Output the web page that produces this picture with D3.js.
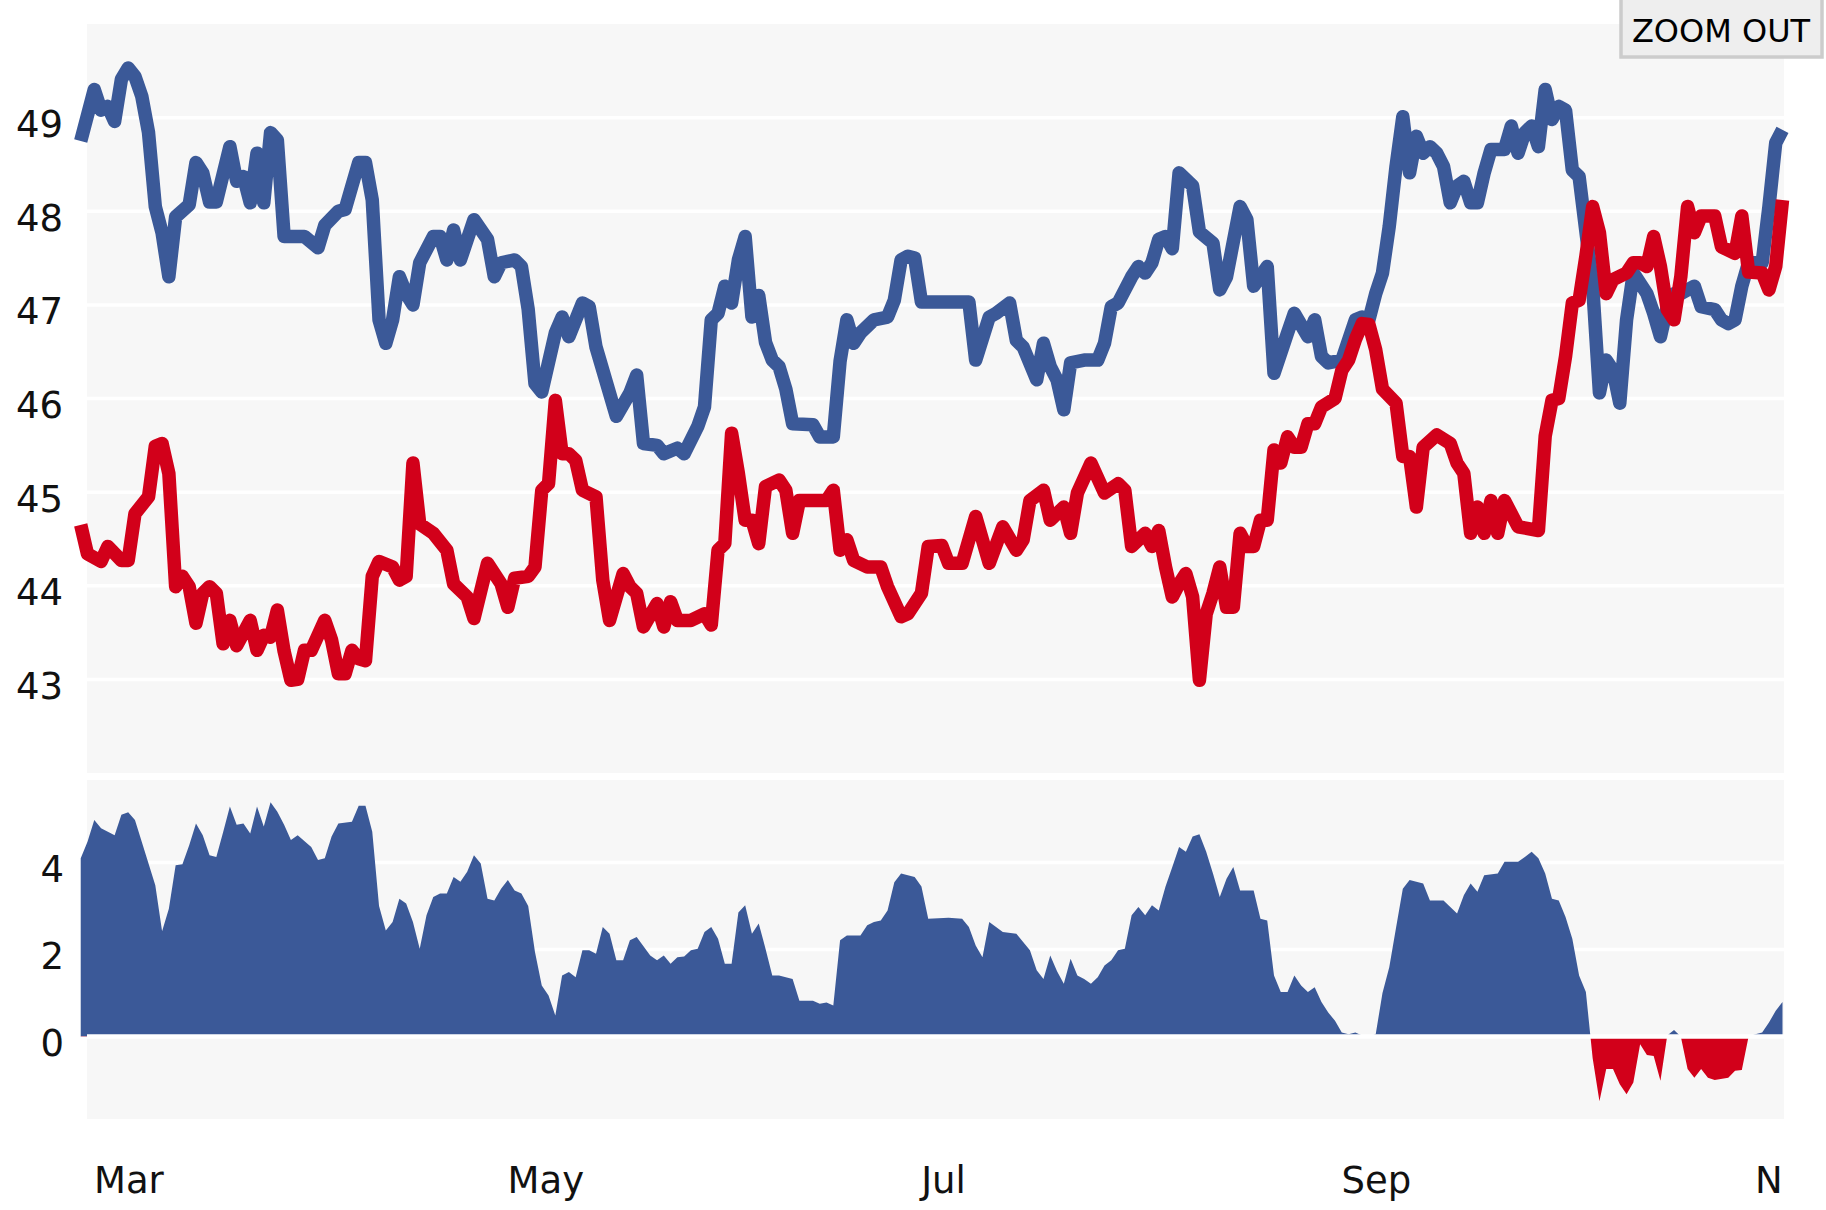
<!DOCTYPE html>
<html><head><meta charset="utf-8">
<script src="https://cdn.jsdelivr.net/npm/d3@7"></script>
<style>
html,body{margin:0;padding:0;background:#fff;}
svg{display:block;}
text{font-family:"DejaVu Sans",Verdana,sans-serif;}
</style>
</head><body>
<svg id="chart" width="1826" height="1210"></svg>
<script>
// x categories: days after 1 Mar 2012 (tracking-poll dates)
const blueDay = [-1,1,2,3,4,5,6,7,8,9,10,11,12,13,15,16,17,18,19,21,22,23,24,25,26,27,28,29,32,34,35,37,38,39,40,41,42,43,44,45,46,47,48,49,51,52,53,54,55,57,59,60,61,63,64,65,66,67,69,70,71,73,74,75,78,80,81,82,84,85,87,88,90,91,92,93,94,95,96,97,98,99,100,101,102,103,104,107,108,110,111,112,113,114,116,118,119,120,121,122,123,130,131,133,134,136,137,138,140,141,142,143,144,145,147,149,150,151,152,154,155,156,157,158,159,160,161,163,164,166,167,168,170,171,172,174,175,177,178,180,181,182,183,185,187,188,189,190,191,192,193,194,195,196,197,198,199,200,201,202,203,204,205,206,207,209,210,211,212,213,214,215,216,217,218,219,220,222,223,224,225,226,227,228,230,231,232,233,234,235,237,238,240,241,242,243,244,245,247,248,249,250];
const blueVal = [48.75,49.30,49.08,49.12,48.96,49.41,49.53,49.44,49.23,48.84,48.05,47.77,47.30,47.94,48.07,48.52,48.41,48.10,48.10,48.69,48.32,48.37,48.09,48.62,48.09,48.84,48.76,47.73,47.73,47.61,47.85,48.00,48.02,48.27,48.52,48.52,48.12,46.84,46.59,46.84,47.30,47.12,47.00,47.45,47.73,47.73,47.48,47.80,47.48,47.91,47.70,47.30,47.45,47.48,47.41,46.95,46.16,46.07,46.70,46.87,46.66,47.02,46.98,46.55,45.81,46.06,46.25,45.52,45.50,45.41,45.47,45.41,45.70,45.91,46.84,46.91,47.20,47.02,47.48,47.73,46.87,47.10,46.60,46.41,46.34,46.10,45.73,45.72,45.59,45.59,46.40,46.84,46.59,46.70,46.84,46.87,47.05,47.48,47.52,47.50,47.03,47.03,46.41,46.87,46.91,47.02,46.62,46.55,46.20,46.59,46.34,46.20,45.88,46.38,46.41,46.41,46.59,46.98,47.02,47.30,47.41,47.34,47.45,47.70,47.73,47.60,48.41,48.27,47.78,47.66,47.16,47.30,48.05,47.91,47.20,47.41,46.27,46.70,46.91,46.66,46.84,46.45,46.38,46.41,46.84,46.87,46.84,47.12,47.34,47.84,48.48,49.01,48.41,48.80,48.62,48.69,48.62,48.48,48.09,48.27,48.32,48.09,48.09,48.41,48.66,48.66,48.91,48.62,48.84,48.91,48.69,49.30,48.98,49.12,49.08,48.44,48.37,47.20,46.06,46.41,46.30,45.95,46.84,47.34,47.12,46.91,46.66,46.98,47.12,47.12,47.20,46.98,46.95,46.84,46.80,46.84,47.20,47.45,47.45,48.05,48.73,48.87];

const redDay = [-1,0,2,3,5,6,7,9,10,11,12,13,14,15,16,17,18,19,20,21,22,24,25,26,27,28,29,30,31,32,33,35,36,37,38,39,40,41,42,43,45,46,47,48,49,51,53,54,56,57,59,61,62,63,65,66,67,68,69,70,71,72,73,75,76,77,79,80,81,82,84,85,86,87,89,91,92,93,94,95,96,97,98,99,100,102,103,104,105,109,110,111,112,113,115,117,118,120,121,123,124,126,127,129,131,133,135,137,138,139,141,142,143,144,145,146,148,150,152,153,154,156,157,158,159,160,161,162,163,164,165,166,167,168,169,170,171,172,173,174,175,176,177,178,179,180,181,182,184,185,186,187,188,189,190,191,193,194,195,196,197,199,201,202,203,204,205,206,207,208,209,211,214,215,216,217,218,219,220,221,222,223,224,225,227,228,229,230,231,232,233,234,235,236,237,238,240,241,243,244,245,247,248,249,250];
const redVal = [44.65,44.34,44.26,44.42,44.27,44.27,44.77,44.95,45.49,45.52,45.20,43.99,44.10,43.99,43.60,43.92,43.99,43.92,43.38,43.63,43.36,43.63,43.31,43.47,43.45,43.74,43.30,42.99,43.00,43.31,43.31,43.63,43.42,43.06,43.06,43.31,43.22,43.20,44.10,44.26,44.20,44.06,44.10,45.31,44.66,44.56,44.38,44.02,43.88,43.65,44.24,44.02,43.77,44.08,44.10,44.20,45.02,45.09,45.98,45.41,45.41,45.34,45.02,44.95,44.06,43.63,44.13,43.99,43.92,43.56,43.81,43.56,43.83,43.63,43.63,43.70,43.58,44.38,44.45,45.63,45.20,44.70,44.70,44.45,45.06,45.13,45.02,44.56,44.91,44.91,45.02,44.38,44.49,44.27,44.20,44.20,43.99,43.67,43.70,43.92,44.42,44.43,44.24,44.24,44.74,44.24,44.63,44.38,44.49,44.91,45.02,44.70,44.77,44.84,44.56,44.99,45.31,44.99,45.09,45.02,44.42,44.56,44.42,44.59,44.20,43.88,44.02,44.13,43.88,42.99,43.70,43.92,44.20,43.77,43.77,44.56,44.42,44.42,44.70,44.70,45.45,45.31,45.59,45.48,45.48,45.73,45.73,45.91,46.00,46.30,46.41,46.63,46.80,46.79,46.52,46.10,45.95,45.38,45.38,44.84,45.48,45.61,45.52,45.31,45.20,44.56,44.84,44.56,44.91,44.56,44.91,44.63,44.59,45.60,45.98,46.00,46.45,47.02,47.05,47.52,48.05,47.77,47.12,47.27,47.34,47.45,47.45,47.41,47.73,47.41,46.95,46.84,47.30,48.05,47.77,47.95,47.95,47.62,47.55,47.95,47.35,47.34,47.16,47.41,48.12];

const spreadDay = [-1,0,1,2,4,5,6,7,8,9,10,11,12,13,14,15,16,17,18,19,20,21,22,23,24,25,26,27,28,29,30,31,33,34,35,36,37,39,40,41,42,43,44,45,46,47,48,49,50,51,52,53,54,55,56,57,58,59,60,61,62,63,64,65,66,67,68,69,70,71,72,73,74,75,76,77,78,79,80,81,83,84,85,86,87,88,89,90,91,92,93,94,95,96,97,98,99,100,101,102,104,105,107,108,109,110,111,112,114,115,116,117,118,119,120,122,123,124,127,129,130,131,132,133,134,135,137,138,139,140,141,142,143,144,145,146,147,148,149,150,151,152,153,154,155,156,157,158,159,160,161,162,163,164,165,166,167,168,169,170,172,173,174,175,176,177,178,179,180,181,182,183,184,185,186,187,188,189,190,191,192,193,194,195,197,198,200,201,202,203,204,205,206,208,209,211,212,213,214,215,216,217,218,219,220,221,222,223,224,225,226,227,228,229,230,231,232,233,234,235,236,237,238,239,240,242,243,244,245,246,247,248,249,250];
const spreadVal = [4.10,4.48,4.98,4.79,4.63,5.10,5.16,4.98,4.48,3.98,3.48,2.42,2.94,3.94,3.96,4.40,4.90,4.63,4.17,4.13,4.70,5.29,4.87,4.90,4.67,5.29,4.83,5.39,5.17,4.87,4.52,4.63,4.36,4.06,4.10,4.60,4.90,4.94,5.31,5.31,4.71,3.00,2.44,2.63,3.17,3.06,2.63,2.02,2.79,3.21,3.29,3.29,3.67,3.56,3.79,4.17,3.98,3.17,3.13,3.40,3.60,3.36,3.29,3.00,1.94,1.17,0.94,0.48,1.40,1.48,1.36,1.98,1.98,1.90,2.52,2.36,1.75,1.75,2.21,2.29,1.86,1.75,1.86,1.67,1.82,1.84,1.98,2.02,2.40,2.52,2.25,1.67,1.67,2.85,3.02,2.36,2.60,2.02,1.40,1.40,1.32,0.82,0.82,0.75,0.78,0.71,2.21,2.32,2.32,2.56,2.63,2.67,2.90,3.55,3.75,3.67,3.45,2.71,2.73,2.71,2.52,2.09,1.82,2.63,2.52,2.40,2.36,2.17,1.98,1.52,1.32,1.86,1.50,1.21,1.79,1.40,1.32,1.21,1.36,1.63,1.75,1.98,2.02,2.79,2.98,2.79,3.02,2.90,3.45,3.90,4.36,4.25,4.60,4.65,4.25,3.75,3.21,3.63,3.90,3.36,3.36,2.71,2.67,1.40,1.02,1.02,1.40,1.17,1.02,1.13,0.79,0.55,0.36,0.09,0.05,0.09,0.02,0.00,0.05,1.00,1.59,2.50,3.40,3.60,3.52,3.13,3.13,2.98,2.83,3.25,3.52,3.33,3.71,3.75,4.02,4.02,4.13,4.25,4.10,3.75,3.17,3.13,2.75,2.25,1.40,1.02,-0.50,-1.49,-0.75,-0.75,-1.10,-1.33,-1.06,-0.18,-0.43,-0.45,-1.02,0.02,0.15,0.00,-0.75,-0.95,-0.75,-0.95,-1.00,-0.95,-0.79,-0.77,0.00,0.05,0.09,0.32,0.59,0.79];

const monthTickDates = ["2012-03-01","2012-05-01","2012-07-01","2012-09-01","2012-11-01"];
const monthLabels = ["Mar","May","Jul","Sep","Nov"];
const topTicks = [43,44,45,46,47,48,49];
const topTickLabels = ["43","44","45","46","47","48","49"];
const bottomTicks = [0,2,4];
const bottomTickLabels = ["0","2","4"];
const buttonLabel = "ZOOM OUT";

const BLUE = "#3b5998", RED = "#d2001a", BG = "#f7f7f7";

const start = new Date(Date.UTC(2012,2,1));
const toDate = d => d3.utcDay.offset(start, d);

const svg = d3.select("#chart");
const x = d3.scaleUtc().domain([start, toDate(250)]).range([87.5, 1782.5]);
const yTop = d3.scaleLinear().domain([42,50]).range([773,24]);
const yBot = d3.scaleLinear().domain([-1.9,5.9]).range([1119,780]);
const PL = 87, PR = 1784;

// panels
svg.append("rect").attr("x",PL).attr("y",yTop(50)).attr("width",PR-PL).attr("height",yTop(42)-yTop(50)).attr("fill",BG);
svg.append("rect").attr("x",PL).attr("y",yBot(5.9)).attr("width",PR-PL).attr("height",yBot(-1.9)-yBot(5.9)).attr("fill",BG);

// gridlines
svg.append("g").selectAll("line").data(topTicks).join("line")
  .attr("x1",PL).attr("x2",PR).attr("y1",d=>yTop(d)).attr("y2",d=>yTop(d))
  .attr("stroke","#fff").attr("stroke-width",3.5);
svg.append("g").selectAll("line").data(bottomTicks.filter(d=>d!==0)).join("line")
  .attr("x1",PL).attr("x2",PR).attr("y1",d=>yBot(d)).attr("y2",d=>yBot(d))
  .attr("stroke","#fff").attr("stroke-width",3.5);

// top lines
const blue = blueDay.map((d,i)=>({date:toDate(d), v:blueVal[i]}));
const red = redDay.map((d,i)=>({date:toDate(d), v:redVal[i]}));
const line = d3.line().x(d=>x(d.date)).y(d=>yTop(d.v));
svg.append("path").datum(blue).attr("d",line).attr("fill","none").attr("stroke",BLUE)
  .attr("stroke-width",13.5).attr("stroke-linejoin","round").attr("stroke-linecap","butt");
svg.append("path").datum(red).attr("d",line).attr("fill","none").attr("stroke",RED)
  .attr("stroke-width",13.5).attr("stroke-linejoin","round").attr("stroke-linecap","butt");

// bottom spread area
const spread = spreadDay.map((d,i)=>({date:toDate(d), v:spreadVal[i]}));
const defs = svg.append("defs");
defs.append("clipPath").attr("id","above").append("rect")
  .attr("x",0).attr("y",0).attr("width",1826).attr("height",yBot(0));
defs.append("clipPath").attr("id","below").append("rect")
  .attr("x",0).attr("y",yBot(0)).attr("width",1826).attr("height",1210-yBot(0));
const area = d3.area().x(d=>x(d.date)).y0(yBot(0)).y1(d=>yBot(d.v));
svg.append("path").datum(spread).attr("d",area).attr("fill",BLUE).attr("clip-path","url(#above)");
svg.append("path").datum(spread).attr("d",area).attr("fill",RED).attr("clip-path","url(#below)");
svg.append("line").attr("x1",PL).attr("x2",PR).attr("y1",yBot(0)).attr("y2",yBot(0))
  .attr("stroke","#fff").attr("stroke-width",4.5);

// y axes
const gTop = svg.append("g").attr("transform","translate(63,0)")
  .call(d3.axisLeft(yTop).tickValues(topTicks).tickFormat((d,i)=>topTickLabels[i]).tickSize(0).tickPadding(0));
const gBot = svg.append("g").attr("transform","translate(64,0)")
  .call(d3.axisLeft(yBot).tickValues(bottomTicks).tickFormat((d,i)=>bottomTickLabels[i]).tickSize(0).tickPadding(0));
[gTop,gBot].forEach(g=>{
  g.select(".domain").remove();
  g.selectAll("text").attr("dy","19px").attr("font-size","37px")
    .attr("font-family","'DejaVu Sans',Verdana,sans-serif").attr("fill","#111");
});

// x axis (labels clipped at the right plot edge)
defs.append("clipPath").attr("id","xclip").append("rect")
  .attr("x",0).attr("y",1120).attr("width",1782).attr("height",90);
const gXwrap = svg.append("g").attr("clip-path","url(#xclip)");
const gX = gXwrap.append("g").attr("transform","translate(0,1193)")
  .call(d3.axisBottom(x).tickValues(monthTickDates.map(s=>new Date(s+"T00:00:00Z")))
    .tickFormat((d,i)=>monthLabels[i]).tickSize(0).tickPadding(0));
gX.select(".domain").remove();
gX.selectAll("text").attr("y",0).attr("dy",0).attr("x",6).attr("text-anchor","start")
  .attr("font-size","37px").attr("font-family","'DejaVu Sans',Verdana,sans-serif").attr("fill","#111");

// zoom out button
const btn = svg.append("g");
btn.append("rect").attr("x",1621).attr("y",-5).attr("width",201).attr("height",62)
  .attr("fill","#eeeeee").attr("stroke","#cccccc").attr("stroke-width",3.5);
btn.append("text").attr("x",1721).attr("y",42).attr("text-anchor","middle")
  .attr("font-size","32px").attr("fill","#000").text(buttonLabel);
</script>
</body></html>
